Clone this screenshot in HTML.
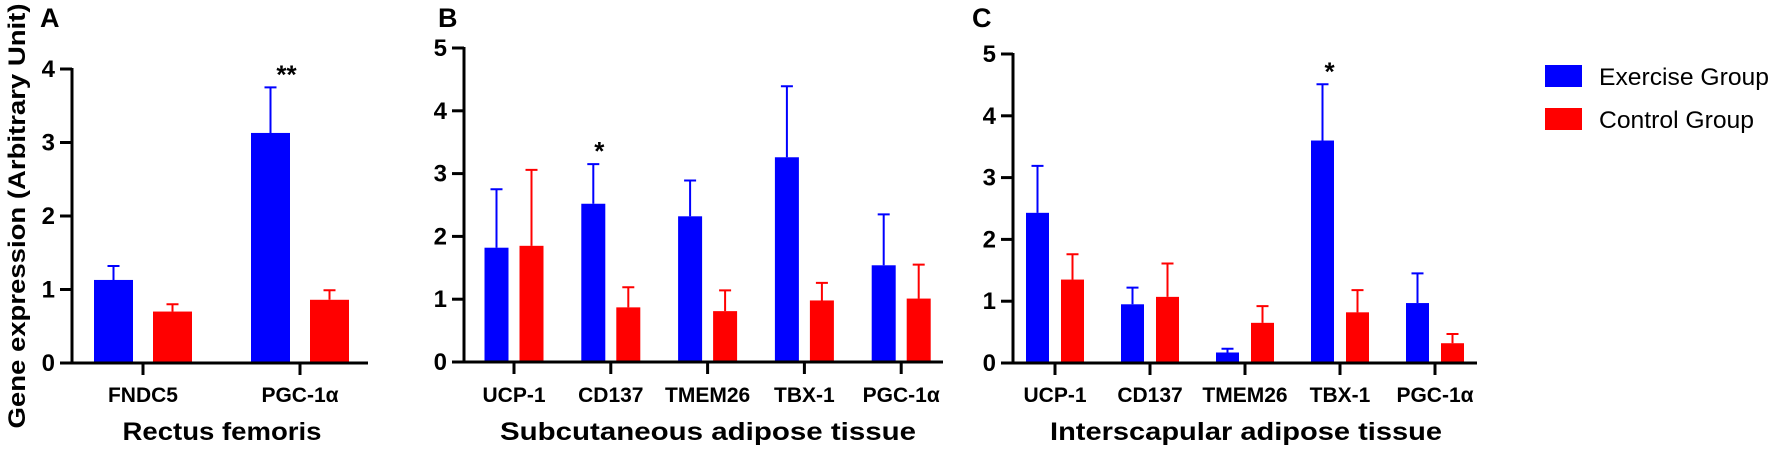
<!DOCTYPE html>
<html><head><meta charset="utf-8"><style>
html,body{margin:0;padding:0;background:#fff;}
svg{display:block;font-family:"Liberation Sans",Arial,sans-serif;}
</style></head><body>
<svg id="chart" width="1772" height="455" viewBox="0 0 1772 455" xmlns="http://www.w3.org/2000/svg">
<text transform="translate(25,216) rotate(-90)" text-anchor="middle" font-size="24" font-weight="bold" textLength="425" lengthAdjust="spacingAndGlyphs">Gene expression (Arbitrary Unit)</text>
<g>
<rect x="1545" y="65" width="37" height="22" fill="#0000FF"/>
<text x="1599" y="85" font-size="24" textLength="170" lengthAdjust="spacingAndGlyphs">Exercise Group</text>
<rect x="1545" y="108" width="37" height="22" fill="#FF0000"/>
<text x="1599" y="128" font-size="24" textLength="155" lengthAdjust="spacingAndGlyphs">Control Group</text>
</g>
</svg>
<script>
// Panel A – Rectus femoris
const catsA = ["FNDC5", "PGC-1α"];
const exerA = [1.13, 3.13];
const exerErrA = [1.32, 3.75];
const ctrlA = [0.70, 0.86];
const ctrlErrA = [0.80, 0.99];
const ticksA = [0, 1, 2, 3, 4];
const starsA = ["", "**"];
// Panel B – Subcutaneous adipose tissue
const catsB = ["UCP-1", "CD137", "TMEM26", "TBX-1", "PGC-1α"];
const exerB = [1.82, 2.52, 2.32, 3.26, 1.54];
const exerErrB = [2.75, 3.15, 2.89, 4.39, 2.35];
const ctrlB = [1.85, 0.87, 0.81, 0.98, 1.01];
const ctrlErrB = [3.06, 1.19, 1.14, 1.26, 1.55];
const ticksB = [0, 1, 2, 3, 4, 5];
const starsB = ["", "*", "", "", ""];
// Panel C – Interscapular adipose tissue
const catsC = ["UCP-1", "CD137", "TMEM26", "TBX-1", "PGC-1α"];
const exerC = [2.43, 0.95, 0.17, 3.60, 0.97];
const exerErrC = [3.19, 1.22, 0.23, 4.51, 1.45];
const ctrlC = [1.35, 1.07, 0.65, 0.82, 0.32];
const ctrlErrC = [1.76, 1.61, 0.92, 1.18, 0.47];
const ticksC = [0, 1, 2, 3, 4, 5];
const starsC = ["", "", "", "*", ""];

const NS = "http://www.w3.org/2000/svg";
const svg = document.getElementById("chart");
function mk(tag, attrs, parent) {
  const e = document.createElementNS(NS, tag);
  for (const k in attrs) e.setAttribute(k, attrs[k]);
  (parent || svg).appendChild(e);
  return e;
}
const BLUE = "#0000FF", RED = "#FF0000";

function drawPanel(p) {
  const g = mk("g", {});
  
  
  const y = v => p.y0 - (v / p.ymax) * (p.y0 - p.yTop);
  const x = i => p.xFirst + i * p.step;
  // panel letter
  const L = mk("text", {x: p.letterX, y: 27, "font-size": 27, "font-weight": "bold"}, g);
  
  
  L.textContent = p.id.toUpperCase();
  // bars
  p.cats.forEach((c, i) => {
    [[p.exer, p.exerErr, BLUE, -p.off, "exercise"], [p.ctrl, p.ctrlErr, RED, p.off, "control"]].forEach(s => {
      const cx = x(i) + s[3];
      const top = y(s[0][i]);
      const r = mk("rect", {x: cx - p.bw / 2, y: top, width: p.bw, height: p.y0 - top, fill: s[2]}, g);
      
      
      const ey = y(s[1][i]);
      const eb = mk("path", {d: `M${cx},${top} V${ey} M${cx - 6},${ey} H${cx + 6}`, stroke: s[2], "stroke-width": 2, fill: "none"}, g);
      
      
    });
    if (p.stars[i]) {
      const st = mk("text", {x: x(i) - p.off + p.starDx, y: y(p.exerErr[i]) - 4, "font-size": 26, "font-weight": "bold", "text-anchor": "middle"}, g);
      
      
      st.textContent = p.stars[i];
    }
    const tk = mk("line", {x1: x(i), x2: x(i), y1: p.y0, y2: p.y0 + 12, stroke: "#000", "stroke-width": 3}, g);
    
    
    const tl = mk("text", {x: x(i), y: 402, "font-size": 21, "font-weight": "bold", "text-anchor": "middle"}, g);
    
    
    tl.textContent = c;
  });
  // axes
  const ya = mk("line", {x1: p.ax, x2: p.ax, y1: p.yTop - 1, y2: p.y0 + 1.5, stroke: "#000", "stroke-width": 3}, g);
  
  
  const xa = mk("line", {x1: p.ax - 12, x2: p.xEnd, y1: p.y0, y2: p.y0, stroke: "#000", "stroke-width": 3}, g);
  
  
  p.ticks.forEach(t => {
    const tk = mk("line", {x1: p.ax - 12, x2: p.ax, y1: y(t), y2: y(t), stroke: "#000", "stroke-width": 3}, g);
    
    
    const tl = mk("text", {x: p.ax - 17, y: y(t) + 8, "font-size": 24, "font-weight": "bold", "text-anchor": "end"}, g);
    
    
    tl.textContent = t;
  });
  const tt = mk("text", {x: p.titleX, y: 440, "font-size": 25, "font-weight": "bold", "text-anchor": "middle", textLength: p.titleW, lengthAdjust: "spacingAndGlyphs"}, g);
  
  
  tt.textContent = p.title;
}

drawPanel({id: "a", cats: catsA, exer: exerA, exerErr: exerErrA, ctrl: ctrlA, ctrlErr: ctrlErrA, ticks: ticksA, stars: starsA,
  ymax: 4, y0: 363, yTop: 69, ax: 72, xEnd: 368, xFirst: 143, step: 157, off: 29.5, bw: 39, starDx: 16,
  letterX: 40, title: "Rectus femoris", titleX: 222, titleW: 199});
drawPanel({id: "b", cats: catsB, exer: exerB, exerErr: exerErrB, ctrl: ctrlB, ctrlErr: ctrlErrB, ticks: ticksB, stars: starsB,
  ymax: 5, y0: 362, yTop: 48, ax: 464, xEnd: 943, xFirst: 514, step: 96.8, off: 17.5, bw: 24, starDx: 6,
  letterX: 438, title: "Subcutaneous adipose tissue", titleX: 708, titleW: 416});
drawPanel({id: "c", cats: catsC, exer: exerC, exerErr: exerErrC, ctrl: ctrlC, ctrlErr: ctrlErrC, ticks: ticksC, stars: starsC,
  ymax: 5, y0: 363, yTop: 54, ax: 1013, xEnd: 1477, xFirst: 1055, step: 95, off: 17.5, bw: 23, starDx: 7,
  letterX: 972, title: "Interscapular adipose tissue", titleX: 1246, titleW: 392});
</script>
</body></html>
